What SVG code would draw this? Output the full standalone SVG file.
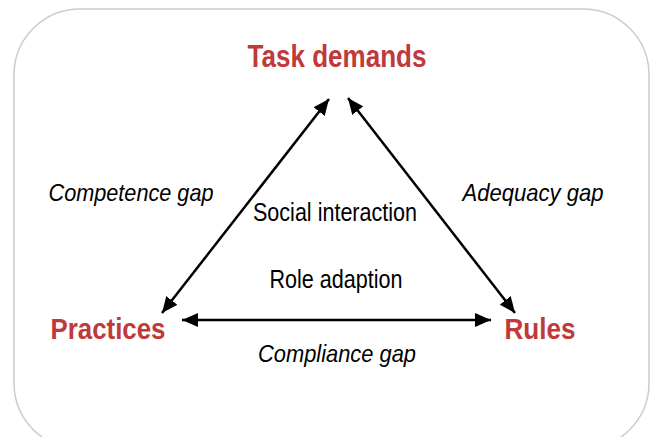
<svg xmlns="http://www.w3.org/2000/svg" width="651" height="437" viewBox="0 0 651 437">
  <style>
    .node { font-family: "Liberation Sans Narrow", "Liberation Sans", Arial, sans-serif; font-weight: bold; fill: #C0393B; font-size: 30px; text-anchor: middle; }
    .gap { font-family: "Liberation Sans Narrow", "Liberation Sans", Arial, sans-serif; font-style: italic; fill: #000; font-size: 24px; text-anchor: middle; }
    .inner { font-family: "Liberation Sans Narrow", "Liberation Sans", Arial, sans-serif; fill: #000; font-size: 25px; text-anchor: middle; }
    .edge { stroke: #000; stroke-width: 2.5; fill: none; marker-start: url(#head); marker-end: url(#head); }
  </style>
  <defs>
    <marker id="head" viewBox="0 0 16 14" refX="16" refY="7" markerWidth="16" markerHeight="14" markerUnits="userSpaceOnUse" orient="auto-start-reverse">
      <path d="M0,0 L16,7 L0,14 Z" fill="#000"/>
    </marker>
  </defs>

  <!-- rounded frame -->
  <rect x="14" y="9" width="635" height="440" rx="66" ry="66" fill="#fff" stroke="#cccccc" stroke-width="1.5"/>

  <g id="connectors">
    <line class="edge" x1="162" y1="313" x2="329" y2="99"/>
    <line class="edge" x1="348" y1="98" x2="515" y2="313"/>
    <line class="edge" x1="182" y1="320" x2="491" y2="320"/>
  </g>

  <g id="task-demands"><text class="node" x="337" y="67" style="font-size:32px" textLength="179" lengthAdjust="spacingAndGlyphs">Task demands</text></g>
  <g id="practices"><text class="node" x="108" y="339" textLength="115" lengthAdjust="spacingAndGlyphs">Practices</text></g>
  <g id="rules"><text class="node" x="540" y="339" textLength="71" lengthAdjust="spacingAndGlyphs">Rules</text></g>

  <g id="labels">
    <text class="gap" x="131" y="201" textLength="165" lengthAdjust="spacingAndGlyphs">Competence gap</text>
    <text class="gap" x="533" y="201" textLength="141" lengthAdjust="spacingAndGlyphs">Adequacy gap</text>
    <text class="gap" x="337" y="362" textLength="158" lengthAdjust="spacingAndGlyphs">Compliance gap</text>
    <text class="inner" x="335" y="221" textLength="164" lengthAdjust="spacingAndGlyphs">Social interaction</text>
    <text class="inner" x="336" y="288" textLength="133" lengthAdjust="spacingAndGlyphs">Role adaption</text>
  </g>
</svg>
